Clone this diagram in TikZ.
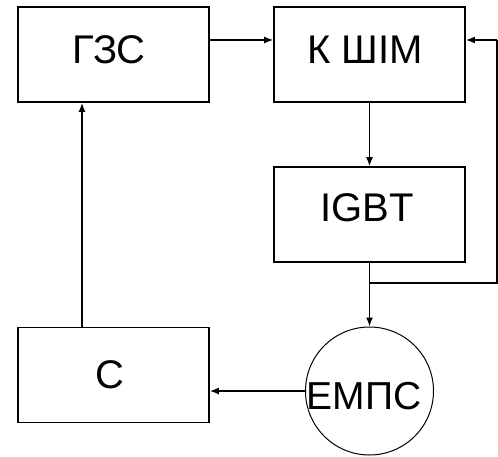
\documentclass[tikz,border=0pt]{standalone}
\usepackage{fontspec}
\setmainfont{Liberation Sans}
\usetikzlibrary{arrows.meta}
\begin{document}
\begin{tikzpicture}[x=1pt,y=-1pt,
  blk/.style={draw,line width=1.7pt,minimum width=191pt,minimum height=95pt,inner sep=0pt},
  lbl/.style={inner sep=0pt,anchor=center,font=\fontsize{40}{40}\selectfont},
  con/.style={line width=1.5pt,-{Latex[length=9pt,width=7pt]}},
  ln/.style={line width=1.5pt}]
\useasboundingbox (0,0) rectangle (498,457);
\node[blk] (gzs) at (113.5,54.5) {};
\node[blk] (kshim) at (369.5,54.5) {};
\node[blk] (igbt) at (369.5,214.5) {};
\node[blk] (s) at (113.5,375) {};
\node[draw,circle,line width=1pt,minimum size=128pt,inner sep=0pt] (emps) at (369.5,391) {};
\node[lbl] (tgzs) at (109,49.5) {ГЗС};
\node[lbl] (tkshim) at (365,49.5) {К ШІМ};
\node[lbl] (tigbt) at (367,208) {IGBT};
\node[lbl,font=\fontsize{39}{39}\selectfont] (temps) at (364,396) {ЕМПС};
\node[lbl] (ts) at (109.5,375) {С};
\coordinate (j) at (369,283);
\coordinate (r1) at (497,283);
\coordinate (r2) at (497,40);
\draw[con] (gzs.east |- 0,40) -- (kshim.west |- 0,40);
\draw[con] (kshim.south) -- (igbt.north);
\draw[con] (igbt.south) -- (emps.north);
\draw[ln] (j) -- (r1) -- (r2);
\draw[con] (r2) -- (kshim.east |- r2);
\draw[con] (emps.west) -- (s.east |- emps.west);
\draw[con] (s.north -| 82,0) -- (gzs.south -| 82,0);
\end{tikzpicture}
\end{document}
